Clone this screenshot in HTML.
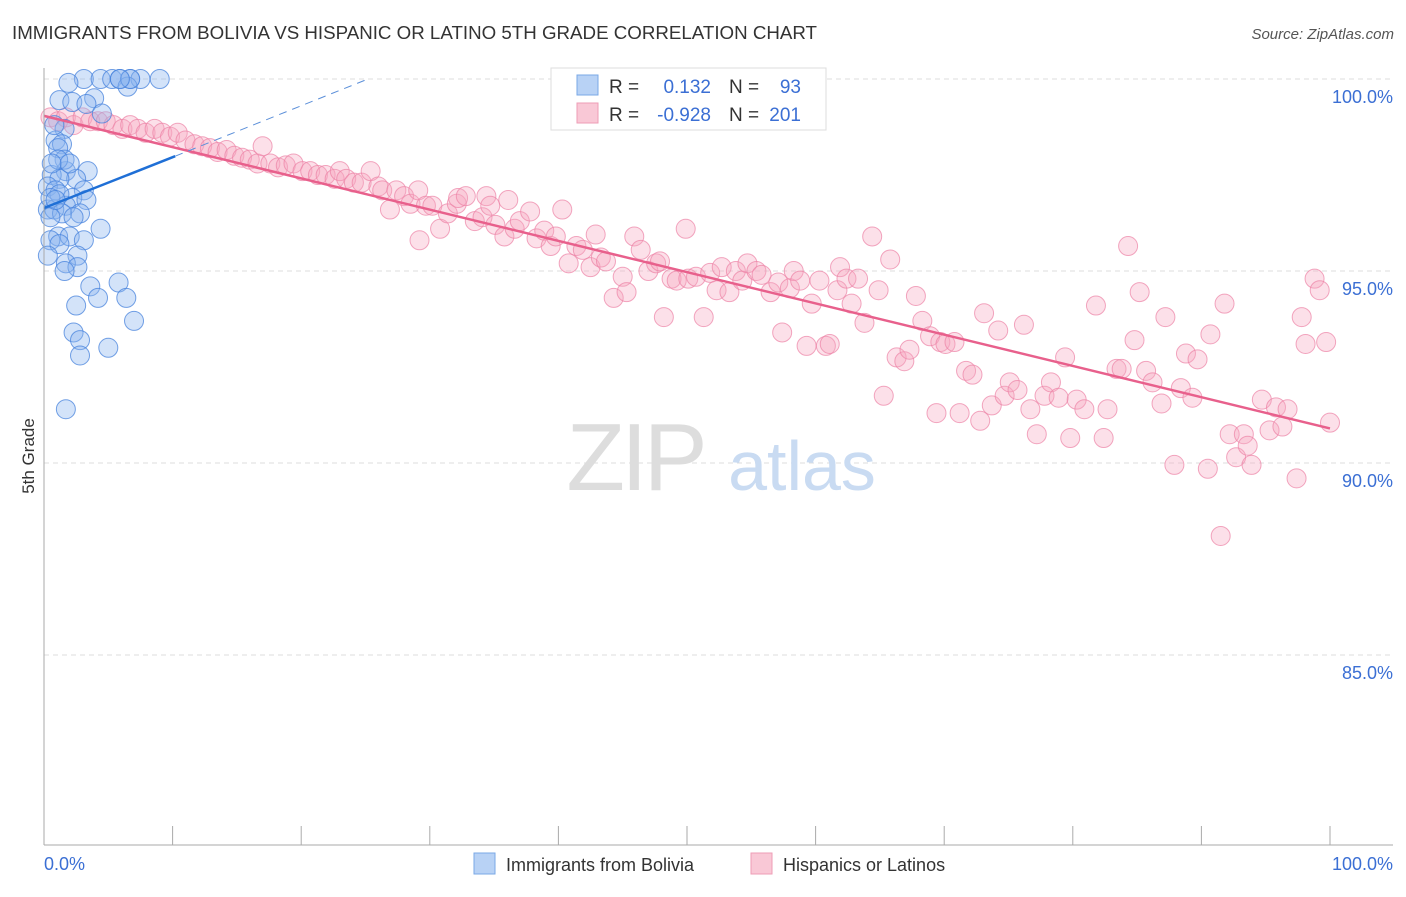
<!DOCTYPE html>
<html><head><meta charset="utf-8"><style>
body{margin:0;background:#fff;font-family:"Liberation Sans",sans-serif;}
svg text{font-family:"Liberation Sans",sans-serif;}
</style></head><body>
<svg id="chart" width="1406" height="892" viewBox="0 0 1406 892" xmlns="http://www.w3.org/2000/svg">
<text x="12" y="39" font-size="18.5" fill="#333" textLength="805" lengthAdjust="spacingAndGlyphs">IMMIGRANTS FROM BOLIVIA VS HISPANIC OR LATINO 5TH GRADE CORRELATION CHART</text>
<text x="1394" y="39" font-size="15" fill="#555" text-anchor="end" font-style="italic">Source: ZipAtlas.com</text>
<g id="grid"></g>
<g>
<text x="635" y="490" font-size="96" fill="#ddd" font-family="Liberation Serif" text-anchor="middle" letter-spacing="-4">ZIP</text>
<text x="802" y="490" font-size="70" fill="#c9dbf2" text-anchor="middle">atlas</text>
</g>
<g id="pinkPts"></g>
<g id="bluePts"></g>
<g id="lines"></g>
<g id="axes"></g>
<text transform="translate(34,456) rotate(-90)" font-size="17" fill="#333" text-anchor="middle">5th Grade</text>
<g>
<rect x="551" y="68" width="275" height="62" fill="#fff" stroke="#ddd"/>
<rect x="577" y="75" width="21" height="20" fill="#b8d2f5" stroke="#7aa8e6"/>
<rect x="577" y="103" width="21" height="20" fill="#f9c8d6" stroke="#ee9db6"/>
<text x="609" y="93" font-size="19" fill="#333">R =</text>
<text x="711" y="93" font-size="19" fill="#3b6fd4" text-anchor="end">0.132</text>
<text x="729" y="93" font-size="19" fill="#333">N =</text>
<text x="801" y="93" font-size="19" fill="#3b6fd4" text-anchor="end">93</text>
<text x="609" y="121" font-size="19" fill="#333">R =</text>
<text x="711" y="121" font-size="19" fill="#3b6fd4" text-anchor="end">-0.928</text>
<text x="729" y="121" font-size="19" fill="#333">N =</text>
<text x="801" y="121" font-size="19" fill="#3b6fd4" text-anchor="end">201</text>
</g>
<g>
<rect x="474" y="853" width="21" height="21" fill="#b8d2f5" stroke="#7aa8e6"/>
<text x="506" y="871" font-size="18" fill="#333">Immigrants from Bolivia</text>
<rect x="751" y="853" width="21" height="21" fill="#f9c8d6" stroke="#ee9db6"/>
<text x="783" y="871" font-size="18" fill="#333">Hispanics or Latinos</text>
</g>
</svg>
<script>
const blueX=[3.1,4.4,5.3,5.9,6.7,7.5,9.0,1.9,6.5,3.9,1.2,2.2,3.3,4.5,1.6,0.9,1.4,1.1,3.4,1.7,0.6,2.5,1.2,0.3,0.9,3.1,2.2,3.3,1.7,0.3,0.8,2.8,1.4,0.5,2.3,4.4,1.1,2.0,3.1,0.5,1.2,0.3,2.6,1.7,2.6,1.6,3.6,5.8,4.2,6.4,2.5,7.0,2.3,2.8,5.0,2.8,1.7,0.8,1.6,1.1,0.6,2.0,1.2,0.5,0.9,6.7,5.9];
const blueY=[100,100,100,100,100,100,100,99.9,99.8,99.5,99.45,99.4,99.35,99.1,98.7,98.4,98.3,98.2,97.6,97.6,97.5,97.4,97.4,97.2,97.1,97.1,96.9,96.85,96.7,96.6,96.6,96.5,96.5,96.4,96.4,96.1,95.9,95.9,95.8,95.8,95.7,95.4,95.4,95.2,95.1,95.0,94.6,94.7,94.3,94.3,94.1,93.7,93.4,93.2,93.0,92.8,91.4,98.8,97.9,97.9,97.8,97.8,97.0,96.9,96.85,100,100];
const pinkX=[0.5,1.1,1.7,2.3,3.0,3.6,4.2,4.8,5.4,6.1,6.7,7.3,7.9,8.6,9.2,9.8,10.4,11.0,11.7,12.3,12.9,13.5,14.2,14.8,15.4,16.0,16.6,17.0,17.6,18.2,18.8,19.4,20.1,20.7,21.3,21.9,22.6,23.0,23.5,24.1,24.7,25.4,26.0,26.3,26.9,27.4,28.0,28.5,29.1,29.2,29.7,30.2,30.8,31.4,32.1,32.2,32.8,33.5,34.1,34.4,34.7,35.1,35.8,36.1,36.6,37.0,37.8,38.3,38.9,39.4,39.8,40.3,40.8,41.4,41.9,42.5,42.9,43.3,43.7,44.3,45.0,45.3,45.9,46.4,47.0,47.6,47.9,48.2,48.8,49.2,49.9,50.1,50.7,51.3,51.8,52.3,52.7,53.3,53.8,54.3,54.7,55.4,55.8,56.5,57.1,57.4,58.0,58.3,58.8,59.3,59.7,60.3,60.8,61.1,61.7,61.9,62.4,62.8,63.3,63.8,64.4,64.9,65.3,65.8,66.3,66.9,67.3,67.8,68.3,68.9,69.4,69.7,70.1,70.8,71.2,71.7,72.2,72.8,73.1,73.7,74.2,74.7,75.1,75.7,76.2,76.7,77.2,77.8,78.3,78.9,79.4,79.8,80.3,80.9,81.8,82.4,82.7,83.4,83.8,84.3,84.8,85.2,85.7,86.2,86.9,87.2,87.9,88.4,88.8,89.3,89.7,90.5,90.7,91.5,91.8,92.2,92.7,93.3,93.6,93.9,94.7,95.3,95.8,96.3,96.7,97.4,97.8,98.1,98.8,99.2,99.7,100.0];
const pinkY=[99.0,98.9,99.0,98.8,99.0,98.9,98.9,98.9,98.8,98.7,98.8,98.7,98.6,98.7,98.6,98.5,98.6,98.4,98.3,98.25,98.2,98.1,98.15,98.0,97.95,97.9,97.8,98.25,97.8,97.7,97.75,97.8,97.6,97.6,97.5,97.5,97.4,97.6,97.4,97.3,97.3,97.6,97.2,97.1,96.6,97.1,96.95,96.75,97.1,95.8,96.7,96.7,96.1,96.5,96.75,96.9,96.95,96.3,96.4,96.95,96.7,96.2,95.9,96.85,96.1,96.3,96.55,95.85,96.05,95.65,95.9,96.6,95.2,95.65,95.55,95.1,95.95,95.35,95.25,94.3,94.85,94.45,95.9,95.55,95.0,95.2,95.25,93.8,94.8,94.75,96.1,94.8,94.85,93.8,94.95,94.5,95.1,94.45,95.0,94.75,95.2,95.0,94.9,94.45,94.7,93.4,94.55,95.0,94.75,93.05,94.15,94.75,93.05,93.1,94.5,95.1,94.8,94.15,94.8,93.65,95.9,94.5,91.75,95.3,92.75,92.65,92.95,94.35,93.7,93.3,91.3,93.15,93.1,93.15,91.3,92.4,92.3,91.1,93.9,91.5,93.45,91.75,92.1,91.9,93.6,91.4,90.75,91.75,92.1,91.7,92.75,90.65,91.65,91.4,94.1,90.65,91.4,92.45,92.45,95.65,93.2,94.45,92.4,92.1,91.55,93.8,89.95,91.95,92.85,91.7,92.7,89.85,93.35,88.1,94.15,90.75,90.15,90.75,90.45,89.95,91.65,90.85,91.45,90.95,91.4,89.6,93.8,93.1,94.8,94.5,93.15,91.05];
const yTicks=[100,95,90,85];
const yTickLabels=["100.0%","95.0%","90.0%","85.0%"];
const xTickVals=[0,10,20,30,40,50,60,70,80,90,100];
const blueTrend=[[0,96.64],[10.2,97.99]];
const blueDash=[[10.2,97.99],[25.2,100]];
const pinkTrend=[[0,99.04],[100,90.9]];

const NS='http://www.w3.org/2000/svg';
const X0=44,X1=1330,Y100=79,PXPER=38.4;
const xs=v=>X0+(X1-X0)*v/100;
const ys=v=>Y100+(100-v)*PXPER;
function mk(tag,attrs,parent){const e=document.createElementNS(NS,tag);for(const k in attrs)e.setAttribute(k,attrs[k]);parent.appendChild(e);return e;}
const grid=document.getElementById('grid');
yTicks.forEach((t,i)=>{
  const l=mk('line',{x1:X0,x2:1393,y1:ys(t),y2:ys(t),stroke:'#ddd','stroke-dasharray':'5,4'},grid);
  
  
  const tx=mk('text',{x:1393,y:ys(t)+24,'font-size':18,fill:'#3b6fd4','text-anchor':'end'},grid);
  tx.textContent=yTickLabels[i];
  
  
});
const axes=document.getElementById('axes');
const ya=mk('line',{x1:X0,x2:X0,y1:68,y2:845,stroke:'#aaa'},axes);


const xa=mk('line',{x1:X0,x2:1393,y1:845,y2:845,stroke:'#aaa'},axes);


xTickVals.forEach(v=>{
  const t=mk('line',{x1:xs(v),x2:xs(v),y1:826,y2:845,stroke:'#aaa'},axes);
  
  
});
const xl0=mk('text',{x:X0,y:870,'font-size':18,fill:'#3b6fd4'},axes);xl0.textContent='0.0%';


const xl1=mk('text',{x:1393,y:870,'font-size':18,fill:'#3b6fd4','text-anchor':'end'},axes);xl1.textContent='100.0%';


const pg=document.getElementById('pinkPts');
pinkX.forEach((x,i)=>{
  const c=mk('circle',{cx:xs(x),cy:ys(pinkY[i]),r:9.5,fill:'rgba(246,166,192,0.35)',stroke:'rgba(236,130,165,0.7)','stroke-width':1},pg);
  
  
});
const bg=document.getElementById('bluePts');
blueX.forEach((x,i)=>{
  const c=mk('circle',{cx:xs(x),cy:ys(blueY[i]),r:9.5,fill:'rgba(140,182,238,0.38)',stroke:'rgba(70,130,220,0.75)','stroke-width':1},bg);
  
  
});
const lg=document.getElementById('lines');
const pl=mk('line',{x1:xs(pinkTrend[0][0]),y1:ys(pinkTrend[0][1]),x2:xs(pinkTrend[1][0]),y2:ys(pinkTrend[1][1]),stroke:'#e8608c','stroke-width':2.5},lg);


const bl=mk('line',{x1:xs(blueTrend[0][0]),y1:ys(blueTrend[0][1]),x2:xs(blueTrend[1][0]),y2:ys(blueTrend[1][1]),stroke:'#1f6fd6','stroke-width':2.5},lg);


const bd=mk('line',{x1:xs(blueDash[0][0]),y1:ys(blueDash[0][1]),x2:xs(blueDash[1][0]),y2:ys(blueDash[1][1]),stroke:'#5b8fd9','stroke-width':1,'stroke-dasharray':'8,6'},lg);


</script>
</body></html>
